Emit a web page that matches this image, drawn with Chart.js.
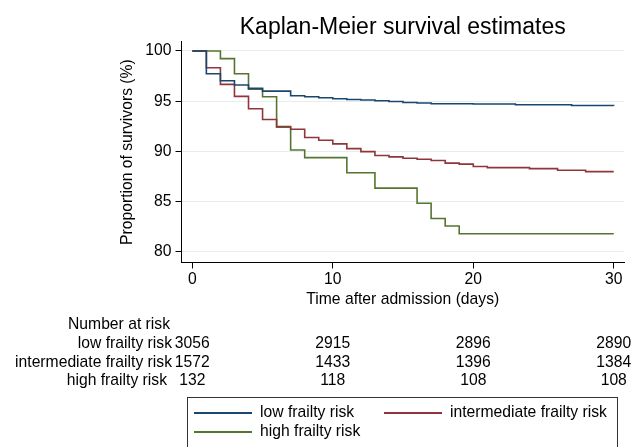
<!DOCTYPE html>
<html>
<head>
<meta charset="utf-8">
<script src="https://cdn.jsdelivr.net/npm/chart.js@4.4.1/dist/chart.umd.min.js"></script>
<style>
  html, body { margin: 0; padding: 0; background: #fff; }
  #wrap { width: 633px; height: 447px; position: relative; }
</style>
</head>
<body>
<div id="wrap"><canvas id="km"></canvas></div>
<script>
const FONT = "'Liberation Sans', Arial, Helvetica, sans-serif";

// series names + colours
const seriesLabels = ["low frailty risk", "intermediate frailty risk", "high frailty risk"];
const seriesColors = ["#1a476f", "#90353b", "#55752f"];

// Kaplan-Meier steps (time in days, survival in %)
const lowTime = [0, 1, 2, 3, 4, 5, 7, 8, 9, 10, 11, 12, 13, 14, 15, 16, 17, 20, 23, 27, 30];
const lowSurv = [100, 97.74, 97.04, 96.61, 96.28, 96.01, 95.55, 95.45, 95.35, 95.25, 95.18, 95.12, 95.05, 94.98, 94.88, 94.82, 94.75, 94.72, 94.65, 94.58, 94.55];

const midTime = [0, 1, 2, 3, 4, 5, 6, 7, 8, 9, 10, 11, 12, 13, 14, 15, 16, 17, 18, 19, 20, 21, 24, 26, 28, 30];
const midSurv = [100, 98.34, 96.68, 95.48, 94.25, 93.19, 92.49, 92.22, 91.39, 91.12, 90.76, 90.29, 89.99, 89.6, 89.46, 89.33, 89.23, 89.1, 88.84, 88.74, 88.5, 88.4, 88.3, 88.14, 88.0, 88.0];

const highTime = [0, 2, 3, 4, 5, 6, 7, 8, 11, 13, 16, 17, 18, 19, 30];
const highSurv = [100, 99.24, 97.73, 96.21, 95.45, 92.42, 90.15, 89.39, 87.88, 86.36, 84.85, 83.33, 82.58, 81.82, 81.82];

// axis ticks
const xTicks = [0, 10, 20, 30];
const yTicks = [80, 85, 90, 95, 100];

// number at risk table
const riskTitle = "Number at risk";
const riskLow = [3056, 2915, 2896, 2890];
const riskMid = [1572, 1433, 1396, 1384];
const riskHigh = [132, 118, 108, 108];

function toPoints(t, s) {
  return t.map((v, i) => ({ x: v, y: s[i] }));
}

const fontSize = 15.7;

// title, risk table and legend box are drawn after the chart
const extras = {
  id: "extras",
  afterDraw(chart) {
    const ctx = chart.ctx;
    const area = chart.chartArea;
    const xs = chart.scales.x;
    ctx.save();
    ctx.fillStyle = "#000";

    // title
    ctx.font = `23px ${FONT}`;
    ctx.textAlign = "center";
    ctx.textBaseline = "alphabetic";
    ctx.fillText("Kaplan-Meier survival estimates", (area.left + area.right) / 2, 33.5);

    // number at risk
    ctx.font = `${fontSize}px ${FONT}`;
    ctx.fillText(riskTitle, 119, 329.4);
    const rows = [riskLow, riskMid, riskHigh];
    const rowY = [348.4, 366.8, 385.1];
    const labelRight = [172, 172, 167];
    rows.forEach((vals, r) => {
      ctx.textAlign = "right";
      ctx.fillText(seriesLabels[r], labelRight[r], rowY[r]);
      ctx.textAlign = "center";
      vals.forEach((v, i) => {
        ctx.fillText(String(v), xs.getPixelForValue(xTicks[i]), rowY[r]);
      });
    });

    // legend box
    ctx.strokeStyle = "#333";
    ctx.lineWidth = 1;
    ctx.strokeRect(187.5, 397.5, 430, 70);
    const slots = [[194, 413], [384, 413], [194, 432]];
    chart.data.datasets.forEach((ds, i) => {
      const [lx, ly] = slots[i];
      ctx.strokeStyle = ds.borderColor;
      ctx.lineWidth = 1.8;
      ctx.beginPath();
      ctx.moveTo(lx, ly);
      ctx.lineTo(lx + 58, ly);
      ctx.stroke();
      ctx.textAlign = "left";
      ctx.textBaseline = "middle";
      ctx.fillStyle = "#000";
      ctx.fillText(ds.label, lx + 66, ly);
    });
    ctx.restore();
  }
};

const datasets = [
  toPoints(lowTime, lowSurv),
  toPoints(midTime, midSurv),
  toPoints(highTime, highSurv)
].map((pts, i) => ({
  label: seriesLabels[i],
  data: pts,
  borderColor: seriesColors[i],
  backgroundColor: seriesColors[i],
  borderWidth: 1.6,
  stepped: "before",
  pointRadius: 0,
  fill: false
}));

new Chart(document.getElementById("km"), {
  type: "line",
  data: { datasets },
  options: {
    responsive: true,
    maintainAspectRatio: false,
    animation: false,
    devicePixelRatio: 1,
    layout: { padding: { top: 41.7, right: 9, bottom: 0, left: 0 } },
    plugins: {
      legend: { display: false },
      tooltip: { enabled: false }
    },
    scales: {
      x: {
        type: "linear",
        min: -0.77,
        max: 30.73,
        afterBuildTicks: s => { s.ticks = xTicks.map(v => ({ value: v })); },
        afterFit: s => { s.height = 184.5; },
        ticks: { color: "#000", font: { family: FONT, size: fontSize }, padding: 2, maxRotation: 0, autoSkip: false },
        grid: { drawOnChartArea: false, tickLength: 6, tickColor: "#000", tickWidth: 1 },
        border: { color: "#000", width: 1 },
        title: {
          display: true,
          text: "Time after admission (days)",
          color: "#000",
          font: { family: FONT, size: fontSize },
          padding: { top: 0, bottom: 137.7 }
        }
      },
      y: {
        min: 78.955,
        max: 100.925,
        afterBuildTicks: s => { s.ticks = yTicks.map(v => ({ value: v })); },
        afterFit: s => { s.width = 181.5; },
        ticks: { color: "#000", font: { family: FONT, size: fontSize }, padding: 4 },
        grid: { color: "#e4edf0", lineWidth: 1, tickLength: 6, tickColor: "#000", tickWidth: 1 },
        border: { color: "#000", width: 1 },
        title: {
          display: true,
          text: "Proportion of survivors (%)",
          color: "#000",
          font: { family: FONT, size: fontSize },
          padding: { top: 118, bottom: 0 }
        }
      }
    }
  },
  plugins: [extras]
});
</script>
</body>
</html>
